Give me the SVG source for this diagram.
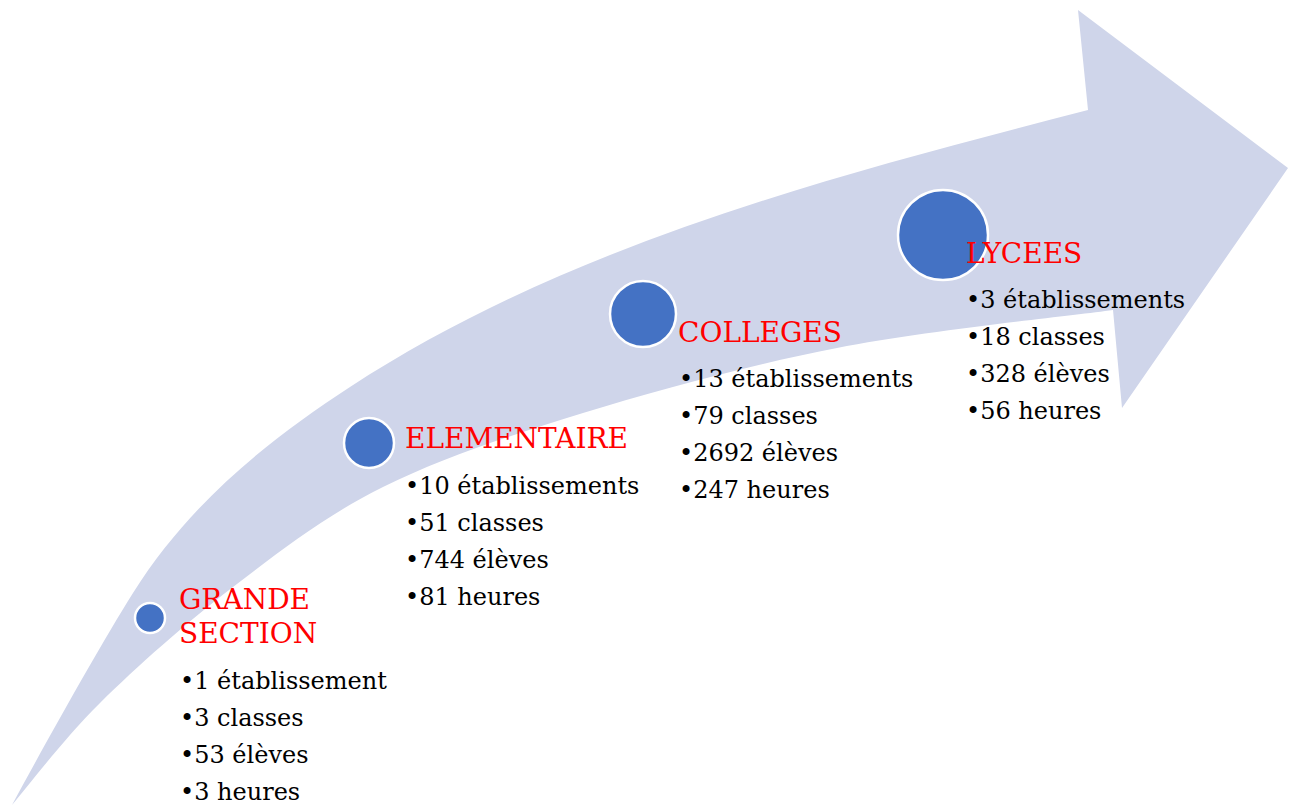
<svg xmlns="http://www.w3.org/2000/svg" width="1296" height="805" viewBox="0 0 1296 805">
<style>
.arrow{fill:#CFD5EA;stroke:none}
.dot{fill:#4472C4;stroke:#FFFFFF;stroke-width:2.5}
.head{font-family:"DejaVu Serif","Liberation Serif",serif;font-size:28px;fill:#FF0000}
.item{font-family:"DejaVu Serif","Liberation Serif",serif;font-size:24px;fill:#000000}
</style>
<rect width="1296" height="805" fill="#FFFFFF"/>
<g id="connectors">
<path class="arrow" d="M12,805 C50.6,733.8 101.1,643.8 133,593 C188.9,504.1 266.2,441.5 350,387 C570.4,243.7 833.4,175.8 1088,110 L1078,10 L1288,168 L1122,408 L1113,310 C1067,316.3 925.3,330.8 837,348 C748.7,365.2 658.7,389.8 583,413 C507.3,436.2 441.3,458 383,487 C324.7,516 280.2,551 233,587 C185.8,623 136.8,666.7 100,703 C63.2,739.3 26.7,788 12,805 Z"/>
</g>
<g id="node-grande-section">
<circle class="dot" cx="150" cy="618" r="15"/>
<text class="head" x="179" y="609">GRANDE</text>
<text class="head" x="179" y="643">SECTION</text>
<text class="item" x="180" y="689">•1 établissement</text>
<text class="item" x="180" y="726">•3 classes</text>
<text class="item" x="180" y="763">•53 élèves</text>
<text class="item" x="180" y="800">•3 heures</text>
</g>
<g id="node-elementaire">
<circle class="dot" cx="369" cy="443" r="25"/>
<text class="head" x="405" y="448">ELEMENTAIRE</text>
<text class="item" x="405" y="494">•10 établissements</text>
<text class="item" x="405" y="531">•51 classes</text>
<text class="item" x="405" y="568">•744 élèves</text>
<text class="item" x="405" y="605">•81 heures</text>
</g>
<g id="node-colleges">
<circle class="dot" cx="643" cy="314" r="33"/>
<text class="head" x="678" y="342">COLLEGES</text>
<text class="item" x="679" y="387">•13 établissements</text>
<text class="item" x="679" y="424">•79 classes</text>
<text class="item" x="679" y="461">•2692 élèves</text>
<text class="item" x="679" y="498">•247 heures</text>
</g>
<g id="node-lycees">
<circle class="dot" cx="943" cy="235" r="45"/>
<text class="head" x="966" y="263">LYCEES</text>
<text class="item" x="966" y="308">•3 établissements</text>
<text class="item" x="966" y="345">•18 classes</text>
<text class="item" x="966" y="382">•328 élèves</text>
<text class="item" x="966" y="419">•56 heures</text>
</g>
</svg>
